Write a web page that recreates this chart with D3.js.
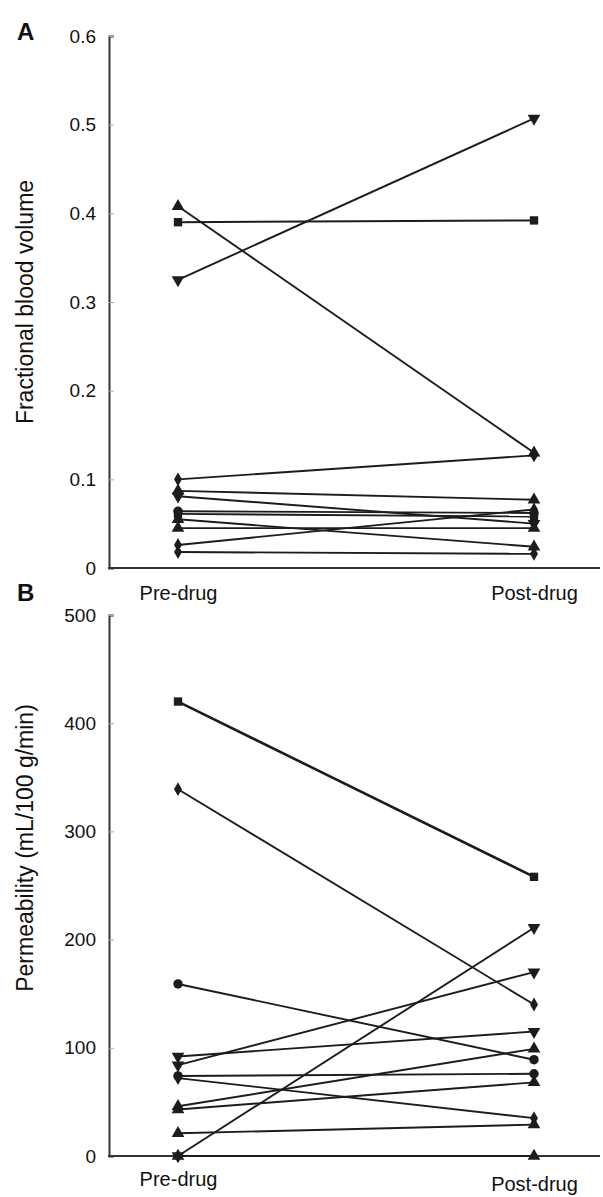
<!DOCTYPE html>
<html>
<head>
<meta charset="utf-8">
<script src="https://cdn.jsdelivr.net/npm/d3@7"></script>
<style>
  body { margin: 0; background: #fff; }
  svg { display: block; font-family: "Liberation Sans", Arial, sans-serif; }
</style>
</head>
<body>
<div id="chart"></div>
<script>
// categories
var groups = ["Pre-drug", "Post-drug"];

// panel A: fractional blood volume, one entry per subject
var volPre  = [0.325, 0.39, 0.408, 0.1, 0.087, 0.081, 0.064, 0.061, 0.055, 0.045, 0.026, 0.018];
var volPost = [0.507, 0.392, 0.13, 0.127, 0.077, 0.050, 0.062, 0.058, 0.024, 0.045, 0.066, 0.016];
var volShape = ["down", "square", "up", "diamond", "up", "down", "circle", "square", "up", "up", "diamond", "diamond"];
var volTicks = [0, 0.1, 0.2, 0.3, 0.4, 0.5, 0.6];

// panel B: permeability (mL/100 g/min)
var permPre  = [420, 339, 159, 92, 84, 74, 72, 46, 43, 21, 0, 0];
var permPost = [258, 140, 89, 115, 170, 76, 35, 99, 68, 29, 211, 0];
var permShape = ["square", "diamond", "circle", "down", "down", "circle", "diamond", "up", "up", "up", "down", "up"];
var permTicks = [0, 100, 200, 300, 400, 500];

var W = 603, H = 1197;
var axisX = 109, rightX = 600;
var ink = "#1c1c1c";

var svg = d3.select("#chart").append("svg").attr("width", W).attr("height", H);

// the two groups sit at fixed points; the axis line runs the full width
var x = d3.scalePoint().domain(groups).range([178, 534]);

var symbolFor = {
  square: d3.symbolSquare,
  circle: d3.symbolCircle,
  diamond: d3.symbolDiamond,
  up: d3.symbolTriangle,
  down: d3.symbolTriangle
};

function panel(opts) {
  var y = d3.scaleLinear().domain(opts.domain).range([opts.bottom, opts.top]);
  var g = svg.append("g");

  // y axis with ticks pointing inward
  var ya = g.append("g")
    .attr("transform", `translate(${axisX},0)`)
    .call(d3.axisLeft(y).tickValues(opts.ticks).tickSize(-5).tickPadding(13).tickFormat(opts.fmt));
  ya.select(".domain").attr("stroke", "#333").attr("stroke-width", 2);
  ya.selectAll(".tick line").attr("stroke", "#aaa").attr("stroke-width", 1);
  ya.selectAll(".tick text").attr("font-size", 19).attr("fill", "#111");

  // x axis line + group labels
  var xa = g.append("g")
    .attr("transform", `translate(0,${opts.bottom})`)
    .call(d3.axisBottom(x).tickSize(0).tickPadding(opts.labelPad));
  xa.select(".domain").attr("d", `M${axisX - 1},0H${rightX}`).attr("stroke", "#333").attr("stroke-width", 2);
  xa.selectAll(".tick text").attr("font-size", 20).attr("fill", "#111")
    .attr("dy", (d, i) => (i == 1 ? opts.postDy : 0) + 14 + "px");

  // axis title
  g.append("text")
    .attr("transform", `translate(${opts.titleX},${opts.titleY}) rotate(-90)`)
    .attr("text-anchor", "middle")
    .attr("font-size", 23)
    .attr("fill", "#111")
    .text(opts.title);

  // panel letter
  g.append("text")
    .attr("x", 17).attr("y", opts.letterY)
    .attr("font-size", 24).attr("font-weight", "bold")
    .attr("fill", "#111")
    .text(opts.letter);

  var rows = opts.pre.map((v, i) => ({ pre: v, post: opts.post[i], shape: opts.shape[i] }));

  g.selectAll(".pair")
    .data(rows)
    .enter()
    .append("line")
    .attr("x1", x(groups[0]))
    .attr("x2", x(groups[1]))
    .attr("y1", (d) => y(d.pre))
    .attr("y2", (d) => y(d.post))
    .attr("stroke", ink)
    .attr("stroke-width", (d, i) => (i == 0 && opts.letter == "B" ? 2.6 : 1.9));

  var pts = [];
  rows.forEach((d) => {
    pts.push({ g: groups[0], v: d.pre, shape: d.shape });
    pts.push({ g: groups[1], v: d.post, shape: d.shape });
  });

  g.selectAll(".mark")
    .data(pts)
    .enter()
    .append("path")
    .attr("d", (d) => d3.symbol().type(symbolFor[d.shape]).size(d.shape == "diamond" ? 55 : 70)())
    .attr("transform", (d) =>
      `translate(${x(d.g)},${y(d.v)})` + (d.shape == "down" ? " rotate(180)" : ""))
    .attr("fill", ink);
}

panel({
  letter: "A", letterY: 40,
  domain: [0, 0.6], top: 36, bottom: 568,
  ticks: volTicks, fmt: (d) => (d == 0 ? "0" : d3.format(".1f")(d)),
  pre: volPre, post: volPost, shape: volShape,
  title: "Fractional blood volume", titleX: 33, titleY: 302,
  labelPad: 18, postDy: 0
});

panel({
  letter: "B", letterY: 601,
  domain: [0, 500], top: 615, bottom: 1156,
  ticks: permTicks, fmt: d3.format("d"),
  pre: permPre, post: permPost, shape: permShape,
  title: "Permeability (mL/100 g/min)", titleX: 33, titleY: 848,
  labelPad: 16, postDy: 5
});
</script>
</body>
</html>
